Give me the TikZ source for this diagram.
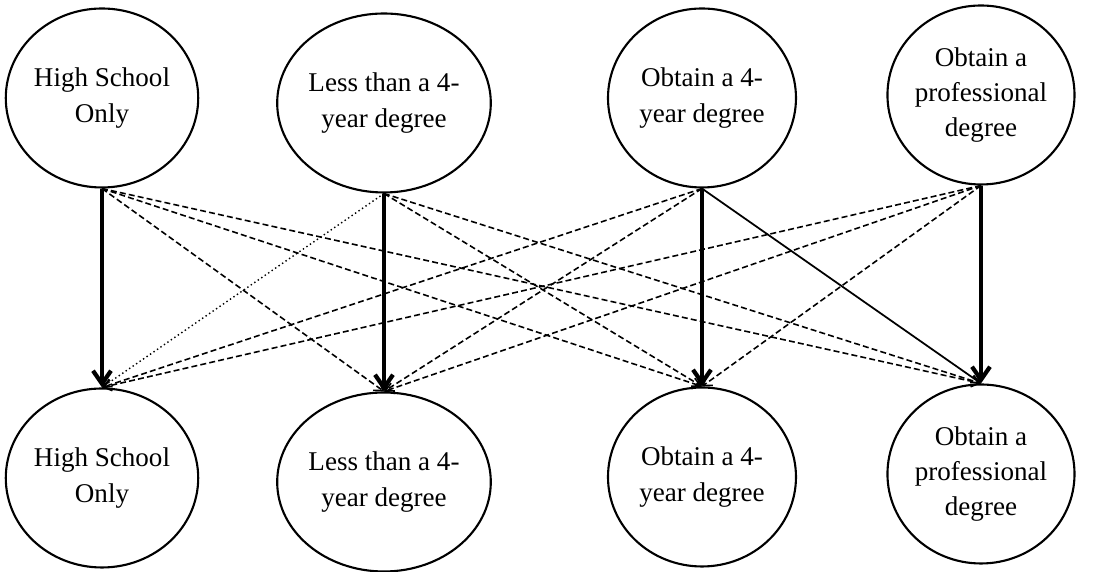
\documentclass[tikz,border=0pt]{standalone}
\usepackage{fontspec}
\setmainfont{Liberation Serif}
\usetikzlibrary{shapes.geometric,arrows.meta}
\tikzset{
  level/.style={draw,ellipse,line width=0.6pt,minimum width=1.88cm,minimum height=1.79cm,
    inner sep=0pt,align=center,font=\fontsize{7.7}{10}\selectfont},
  stay/.style={-{Straight Barb[length=1.3mm,width=1.8mm]},line width=1.2pt},
  move/.style={-{Straight Barb[length=0.8mm,width=1.1mm]},line width=0.45pt,dash pattern=on 1.7pt off 0.9pt},
  faint/.style={-{Straight Barb[length=0.8mm,width=1.1mm]},line width=0.4pt,dash pattern=on 0.4pt off 0.8pt},
  plain/.style={-{Straight Barb[length=0.8mm,width=1.1mm]},line width=0.5pt}
}
\begin{document}
\begin{tikzpicture}[x=1cm,y=1cm]
  \useasboundingbox (0,0) rectangle (11.1,5.72);
  % origin (top row)
  \node[level] (hs1) at (1.02,4.74) {High School\\Only};
  \node[level] (lt1) at (3.84,4.69) {Less than a 4-\\year degree};
  \node[level] (fy1) at (7.02,4.74) {Obtain a 4-\\year degree};
  \node[level,minimum width=1.83cm] (pr1) at (9.81,4.77) {Obtain a\\professional\\degree};
  % destination (bottom row)
  \node[level] (hs2) at (1.02,0.94) {High School\\Only};
  \node[level] (lt2) at (3.84,0.90) {Less than a 4-\\year degree};
  \node[level] (fy2) at (7.02,0.95) {Obtain a 4-\\year degree};
  \node[level,minimum width=1.83cm] (pr2) at (9.81,0.98) {Obtain a\\professional\\degree};
  % same level
  \draw[stay] (hs1.south) -- (hs2.north);
  \draw[stay] (lt1.south) -- (lt2.north);
  \draw[stay] (fy1.south) -- (fy2.north);
  \draw[stay] (pr1.south) -- (pr2.north);
  % from high school only
  \draw[move] (hs1.south) -- (lt2.north);
  \draw[move] (hs1.south) -- (fy2.north);
  \draw[move] (hs1.south) -- (pr2.north);
  % from less than a 4-year degree
  \draw[faint] (lt1.south) -- (hs2.north);
  \draw[move] (lt1.south) -- (fy2.north);
  \draw[move] (lt1.south) -- (pr2.north);
  % from a 4-year degree
  \draw[move] (fy1.south) -- (hs2.north);
  \draw[move] (fy1.south) -- (lt2.north);
  \draw[plain] (fy1.south) -- (pr2.north);
  % from a professional degree
  \draw[move] (pr1.south) -- (hs2.north);
  \draw[move] (pr1.south) -- (lt2.north);
  \draw[move] (pr1.south) -- (fy2.north);
\end{tikzpicture}
\end{document}
